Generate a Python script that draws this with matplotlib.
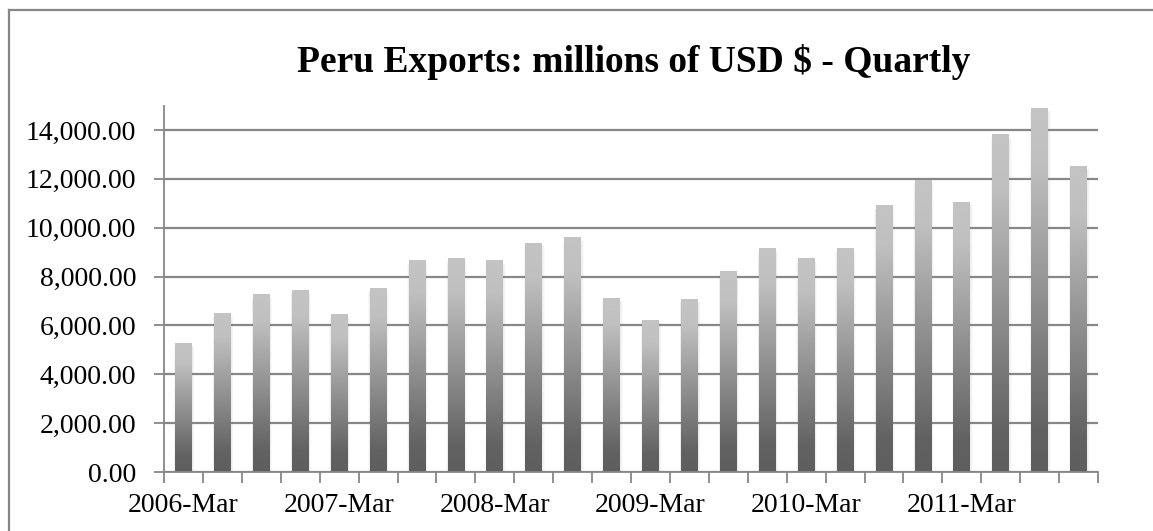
import numpy as np
import matplotlib.pyplot as plt
from matplotlib.colors import LinearSegmentedColormap
from matplotlib.lines import Line2D
from matplotlib.patches import Rectangle

# quarterly exports, millions of USD
years = [2006, 2007, 2008, 2009, 2010, 2011]
months = ["Mar", "Jun", "Sep", "Dec"]
quarters = [f"{y}-{m}" for y in years for m in months]
exports = [5280, 6470, 7250, 7450, 6430, 7530, 8640, 8720, 8640, 9370, 9580, 7120,
           6220, 7080, 8190, 9130, 8720, 9130, 10890, 11950, 11050, 13800, 14900, 12520]

serif = ["Liberation Serif", "DejaVu Serif"]
grey = "#878787"

fig = plt.figure(figsize=(11.53, 5.31), dpi=100)
ax = fig.add_axes([164 / 1153, 1 - 472 / 531, (1098 - 164) / 1153, (472 - 105.6) / 531])

# chart frame, runs off the right and bottom edges
fig.add_artist(Line2D([9 / 1153, 9 / 1153], [1 - 10 / 531, -0.1], color=grey, lw=1.6))
fig.add_artist(Line2D([9 / 1153, 1.1], [1 - 10 / 531, 1 - 10 / 531], color=grey, lw=1.6))

x = np.arange(len(exports))
width = 0.43
bars = ax.bar(x, exports, width=width, color="none", zorder=3)

cmap = LinearSegmentedColormap.from_list(
    "barfade", [(0, "#5e5e5e"), (0.12, "#626262"), (0.85, "#c0c0c0"), (1, "#c4c4c4")])
grad = np.linspace(0, 1, 256).reshape(-1, 1)
for b in bars:
    x0, h = b.get_x(), b.get_height()
    # soft shadow around each bar
    for k, a in [(0.10, 0.03), (0.07, 0.04), (0.04, 0.05)]:
        ax.add_patch(Rectangle((x0 - k / 3, -60), width + k, h - 60, color="#7a7a7a",
                               alpha=a, lw=0, zorder=2))
    ax.imshow(grad, extent=[x0, x0 + width, 0, h], origin="lower", cmap=cmap,
              aspect="auto", zorder=3, interpolation="bilinear")

ax.set_xlim(-0.5, len(exports) - 0.5)
ax.set_ylim(0, 15000)
ax.set_yticks(np.arange(0, 14001, 2000))
ax.set_yticklabels([f"{v:,.2f}" for v in range(0, 14001, 2000)], fontfamily=serif, fontsize=20)
ax.set_xticks(x[::4])
ax.set_xticklabels(quarters[::4], fontfamily=serif, fontsize=20)
ax.set_xticks(np.arange(-0.5, len(exports)), minor=True)
ax.tick_params(axis="x", which="major", length=0, pad=15)
ax.tick_params(axis="x", which="minor", length=8, width=1.3, color=grey, direction="out")
ax.tick_params(axis="y", length=7, width=1.3, color=grey, pad=13)

ax.grid(axis="y", color=grey, lw=1.6, zorder=1)
for s in ["top", "right"]:
    ax.spines[s].set_visible(False)
for s in ["left", "bottom"]:
    ax.spines[s].set_color(grey)
    ax.spines[s].set_linewidth(1.3)
    ax.spines[s].set_zorder(4)

fig.text(634 / 1153, 1 - 62 / 531, "Peru Exports: millions of USD $ - Quartly",
         ha="center", va="center", fontfamily=serif, fontweight="bold", fontsize=27)

fig.savefig("out.png", dpi=100)
